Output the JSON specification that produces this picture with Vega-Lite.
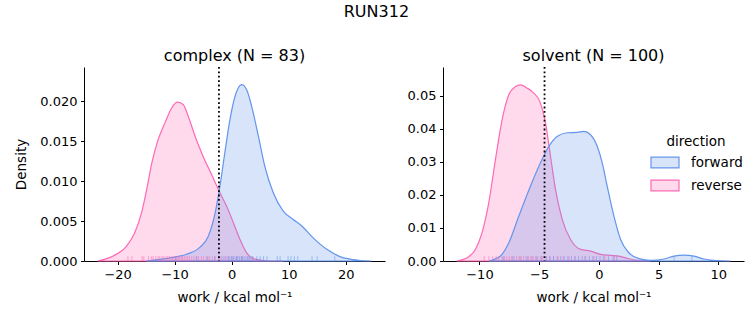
{
  "$schema": "https://vega.github.io/schema/vega-lite/v6.json",
  "background": "white",
  "padding": {"left": 14, "top": 4, "right": 5, "bottom": 5},
  "title": {"text": "RUN312", "fontSize": 16, "fontWeight": "normal", "anchor": "middle", "offset": 28, "dx": -3},
  "config": {
    "font": "DejaVu Sans",
    "view": {"stroke": null},
    "axis": {"grid": false, "domainColor": "black", "tickColor": "black", "labelColor": "black", "titleColor": "black", "labelFontSize": 13, "titleFontSize": 13.5, "titleFontWeight": "normal", "tickSize": 3.5, "labelPadding": 3.5, "domainWidth": 1, "tickWidth": 1, "titlePadding": 11, "labelOverlap": false},
    "title": {"fontSize": 16, "fontWeight": "normal", "color": "black"},
    "legend": {"titleFontSize": 13.5, "labelFontSize": 13.5, "titleFontWeight": "normal", "titleColor": "black", "labelColor": "black"}
  },
  "datasets": {
    "complex_kde": [
      {"direction": "reverse", "work": -23.5, "density": 0.0},
      {"direction": "reverse", "work": -20.8, "density": 0.000625},
      {"direction": "reverse", "work": -18.4, "density": 0.0019},
      {"direction": "reverse", "work": -17.0, "density": 0.00355},
      {"direction": "reverse", "work": -15.8, "density": 0.00605},
      {"direction": "reverse", "work": -14.9, "density": 0.00896},
      {"direction": "reverse", "work": -14.0, "density": 0.0123},
      {"direction": "reverse", "work": -12.9, "density": 0.0152},
      {"direction": "reverse", "work": -11.7, "density": 0.0173},
      {"direction": "reverse", "work": -10.5, "density": 0.0192},
      {"direction": "reverse", "work": -9.5, "density": 0.0199},
      {"direction": "reverse", "work": -8.5, "density": 0.0196},
      {"direction": "reverse", "work": -7.6, "density": 0.0181},
      {"direction": "reverse", "work": -6.4, "density": 0.0156},
      {"direction": "reverse", "work": -5.0, "density": 0.0131},
      {"direction": "reverse", "work": -3.5, "density": 0.0108},
      {"direction": "reverse", "work": -2.05, "density": 0.00855},
      {"direction": "reverse", "work": -0.9, "density": 0.00688},
      {"direction": "reverse", "work": 0.3, "density": 0.0048},
      {"direction": "reverse", "work": 1.46, "density": 0.0027},
      {"direction": "reverse", "work": 2.6, "density": 0.00105},
      {"direction": "reverse", "work": 3.8, "density": 0.0003},
      {"direction": "reverse", "work": 6.1, "density": 0.00003},
      {"direction": "reverse", "work": 9.0, "density": 0.0},
      {"direction": "forward", "work": -15.0, "density": 0.0},
      {"direction": "forward", "work": -10.8, "density": 0.0004},
      {"direction": "forward", "work": -7.9, "density": 0.00084},
      {"direction": "forward", "work": -5.6, "density": 0.0017},
      {"direction": "forward", "work": -4.1, "density": 0.0031},
      {"direction": "forward", "work": -2.9, "density": 0.006},
      {"direction": "forward", "work": -2.05, "density": 0.0094},
      {"direction": "forward", "work": -1.2, "density": 0.01355},
      {"direction": "forward", "work": -0.3, "density": 0.0177},
      {"direction": "forward", "work": 0.58, "density": 0.0206},
      {"direction": "forward", "work": 1.75, "density": 0.0221},
      {"direction": "forward", "work": 2.6, "density": 0.0215},
      {"direction": "forward", "work": 3.5, "density": 0.0194},
      {"direction": "forward", "work": 4.7, "density": 0.0156},
      {"direction": "forward", "work": 5.8, "density": 0.0119},
      {"direction": "forward", "work": 7.3, "density": 0.00855},
      {"direction": "forward", "work": 9.05, "density": 0.00625},
      {"direction": "forward", "work": 10.8, "density": 0.0052},
      {"direction": "forward", "work": 12.3, "density": 0.00438},
      {"direction": "forward", "work": 14.3, "density": 0.0029},
      {"direction": "forward", "work": 16.7, "density": 0.00146},
      {"direction": "forward", "work": 19.0, "density": 0.00055},
      {"direction": "forward", "work": 21.3, "density": 0.00017},
      {"direction": "forward", "work": 22.5, "density": 0.00005},
      {"direction": "forward", "work": 24.5, "density": 0.0}
    ],
    "solvent_kde": [
      {"direction": "reverse", "work": -11.9, "density": 0.0},
      {"direction": "reverse", "work": -11.04, "density": 0.001},
      {"direction": "reverse", "work": -10.34, "density": 0.0035},
      {"direction": "reverse", "work": -9.78, "density": 0.0086},
      {"direction": "reverse", "work": -9.22, "density": 0.0176},
      {"direction": "reverse", "work": -8.66, "density": 0.0307},
      {"direction": "reverse", "work": -8.1, "density": 0.0428},
      {"direction": "reverse", "work": -7.54, "density": 0.0503},
      {"direction": "reverse", "work": -6.98, "density": 0.0528},
      {"direction": "reverse", "work": -6.56, "density": 0.0533},
      {"direction": "reverse", "work": -6.0, "density": 0.0523},
      {"direction": "reverse", "work": -5.45, "density": 0.0508},
      {"direction": "reverse", "work": -4.95, "density": 0.0483},
      {"direction": "reverse", "work": -4.47, "density": 0.0418},
      {"direction": "reverse", "work": -4.05, "density": 0.0317},
      {"direction": "reverse", "work": -3.63, "density": 0.0216},
      {"direction": "reverse", "work": -3.07, "density": 0.0126},
      {"direction": "reverse", "work": -2.37, "density": 0.0065},
      {"direction": "reverse", "work": -1.53, "density": 0.0035},
      {"direction": "reverse", "work": -0.7, "density": 0.003},
      {"direction": "reverse", "work": 0.14, "density": 0.002},
      {"direction": "reverse", "work": 0.98, "density": 0.0017},
      {"direction": "reverse", "work": 1.68, "density": 0.0015},
      {"direction": "reverse", "work": 2.37, "density": 0.0008},
      {"direction": "reverse", "work": 3.2, "density": 0.0002},
      {"direction": "reverse", "work": 4.3, "density": 0.0},
      {"direction": "forward", "work": -9.22, "density": 0.0},
      {"direction": "forward", "work": -8.24, "density": 0.0015},
      {"direction": "forward", "work": -7.54, "density": 0.0055},
      {"direction": "forward", "work": -6.7, "density": 0.0136},
      {"direction": "forward", "work": -5.73, "density": 0.0226},
      {"direction": "forward", "work": -4.89, "density": 0.0297},
      {"direction": "forward", "work": -4.19, "density": 0.0347},
      {"direction": "forward", "work": -3.5, "density": 0.0377},
      {"direction": "forward", "work": -2.66, "density": 0.0388},
      {"direction": "forward", "work": -1.82, "density": 0.0389},
      {"direction": "forward", "work": -1.26, "density": 0.0392},
      {"direction": "forward", "work": -0.7, "density": 0.0382},
      {"direction": "forward", "work": -0.14, "density": 0.0347},
      {"direction": "forward", "work": 0.28, "density": 0.0297},
      {"direction": "forward", "work": 0.7, "density": 0.0226},
      {"direction": "forward", "work": 1.26, "density": 0.0136},
      {"direction": "forward", "work": 1.82, "density": 0.0065},
      {"direction": "forward", "work": 2.51, "density": 0.0025},
      {"direction": "forward", "work": 3.35, "density": 0.0007},
      {"direction": "forward", "work": 4.33, "density": 0.0002},
      {"direction": "forward", "work": 5.45, "density": 0.0006},
      {"direction": "forward", "work": 6.29, "density": 0.0015},
      {"direction": "forward", "work": 7.12, "density": 0.0018},
      {"direction": "forward", "work": 7.96, "density": 0.0015},
      {"direction": "forward", "work": 8.8, "density": 0.0006},
      {"direction": "forward", "work": 9.9, "density": 0.0001},
      {"direction": "forward", "work": 11.0, "density": 0.0}
    ],
    "complex_rug": [
      {"direction": "reverse", "work": -18.2}, {"direction": "reverse", "work": -17.5}, {"direction": "reverse", "work": -15.7}, {"direction": "reverse", "work": -15.4},
      {"direction": "reverse", "work": -14.6}, {"direction": "reverse", "work": -14.1}, {"direction": "reverse", "work": -13.8}, {"direction": "reverse", "work": -13.3},
      {"direction": "reverse", "work": -12.9}, {"direction": "reverse", "work": -12.6}, {"direction": "reverse", "work": -12.2}, {"direction": "reverse", "work": -11.9},
      {"direction": "reverse", "work": -11.5}, {"direction": "reverse", "work": -11.2}, {"direction": "reverse", "work": -10.9}, {"direction": "reverse", "work": -10.6},
      {"direction": "reverse", "work": -10.3}, {"direction": "reverse", "work": -10.1}, {"direction": "reverse", "work": -9.8}, {"direction": "reverse", "work": -9.6},
      {"direction": "reverse", "work": -9.3}, {"direction": "reverse", "work": -9.1}, {"direction": "reverse", "work": -8.8}, {"direction": "reverse", "work": -8.6},
      {"direction": "reverse", "work": -8.3}, {"direction": "reverse", "work": -8.0}, {"direction": "reverse", "work": -7.7}, {"direction": "reverse", "work": -7.4},
      {"direction": "reverse", "work": -7.0}, {"direction": "reverse", "work": -6.6}, {"direction": "reverse", "work": -6.2}, {"direction": "reverse", "work": -5.8},
      {"direction": "reverse", "work": -5.3}, {"direction": "reverse", "work": -4.9}, {"direction": "reverse", "work": -4.4}, {"direction": "reverse", "work": -3.9},
      {"direction": "reverse", "work": -3.4}, {"direction": "reverse", "work": -2.9}, {"direction": "reverse", "work": -2.3}, {"direction": "reverse", "work": -1.8},
      {"direction": "reverse", "work": -1.2}, {"direction": "reverse", "work": -0.6}, {"direction": "reverse", "work": 0.1}, {"direction": "reverse", "work": 0.9},
      {"direction": "reverse", "work": 1.8}, {"direction": "reverse", "work": 2.9}, {"direction": "reverse", "work": 3.7},
      {"direction": "forward", "work": -9.8}, {"direction": "forward", "work": -6.1}, {"direction": "forward", "work": -4.2}, {"direction": "forward", "work": -3.0},
      {"direction": "forward", "work": -2.1}, {"direction": "forward", "work": -1.5}, {"direction": "forward", "work": -1.0}, {"direction": "forward", "work": -0.6},
      {"direction": "forward", "work": -0.3}, {"direction": "forward", "work": 0.0}, {"direction": "forward", "work": 0.3}, {"direction": "forward", "work": 0.6},
      {"direction": "forward", "work": 0.9}, {"direction": "forward", "work": 1.1}, {"direction": "forward", "work": 1.4}, {"direction": "forward", "work": 1.7},
      {"direction": "forward", "work": 1.9}, {"direction": "forward", "work": 2.2}, {"direction": "forward", "work": 2.5}, {"direction": "forward", "work": 2.8},
      {"direction": "forward", "work": 3.1}, {"direction": "forward", "work": 3.4}, {"direction": "forward", "work": 3.7}, {"direction": "forward", "work": 4.4},
      {"direction": "forward", "work": 5.0}, {"direction": "forward", "work": 5.6}, {"direction": "forward", "work": 6.2}, {"direction": "forward", "work": 8.0},
      {"direction": "forward", "work": 8.5}, {"direction": "forward", "work": 9.9}, {"direction": "forward", "work": 10.4}, {"direction": "forward", "work": 11.0},
      {"direction": "forward", "work": 11.6}, {"direction": "forward", "work": 14.1}, {"direction": "forward", "work": 15.0}, {"direction": "forward", "work": 18.1}
    ],
    "solvent_rug": [
      {"direction": "reverse", "work": -9.6}, {"direction": "reverse", "work": -9.2}, {"direction": "reverse", "work": -8.9}, {"direction": "reverse", "work": -8.6},
      {"direction": "reverse", "work": -8.4}, {"direction": "reverse", "work": -8.1}, {"direction": "reverse", "work": -7.9}, {"direction": "reverse", "work": -7.7},
      {"direction": "reverse", "work": -7.5}, {"direction": "reverse", "work": -7.3}, {"direction": "reverse", "work": -7.1}, {"direction": "reverse", "work": -6.9},
      {"direction": "reverse", "work": -6.7}, {"direction": "reverse", "work": -6.5}, {"direction": "reverse", "work": -6.3}, {"direction": "reverse", "work": -6.1},
      {"direction": "reverse", "work": -5.9}, {"direction": "reverse", "work": -5.7}, {"direction": "reverse", "work": -5.5}, {"direction": "reverse", "work": -5.3},
      {"direction": "reverse", "work": -5.1}, {"direction": "reverse", "work": -4.9}, {"direction": "reverse", "work": -4.7}, {"direction": "reverse", "work": -4.4},
      {"direction": "reverse", "work": -4.1}, {"direction": "reverse", "work": -3.8}, {"direction": "reverse", "work": -3.4}, {"direction": "reverse", "work": -3.0},
      {"direction": "reverse", "work": -2.5}, {"direction": "reverse", "work": -2.0}, {"direction": "reverse", "work": -1.2}, {"direction": "reverse", "work": -0.4},
      {"direction": "reverse", "work": 0.5}, {"direction": "reverse", "work": 1.3},
      {"direction": "forward", "work": -8.0}, {"direction": "forward", "work": -7.2}, {"direction": "forward", "work": -6.6}, {"direction": "forward", "work": -6.0},
      {"direction": "forward", "work": -5.6}, {"direction": "forward", "work": -5.2}, {"direction": "forward", "work": -4.8}, {"direction": "forward", "work": -4.4},
      {"direction": "forward", "work": -4.1}, {"direction": "forward", "work": -3.8}, {"direction": "forward", "work": -3.5}, {"direction": "forward", "work": -3.2},
      {"direction": "forward", "work": -2.9}, {"direction": "forward", "work": -2.6}, {"direction": "forward", "work": -2.3}, {"direction": "forward", "work": -2.0},
      {"direction": "forward", "work": -1.7}, {"direction": "forward", "work": -1.4}, {"direction": "forward", "work": -1.1}, {"direction": "forward", "work": -0.8},
      {"direction": "forward", "work": -0.5}, {"direction": "forward", "work": -0.2}, {"direction": "forward", "work": 0.1}, {"direction": "forward", "work": 0.4},
      {"direction": "forward", "work": 0.8}, {"direction": "forward", "work": 1.2}, {"direction": "forward", "work": 1.5}, {"direction": "forward", "work": 6.3},
      {"direction": "forward", "work": 7.8}
    ],
    "thresholds": [
      {"panel": "complex", "work": -2.23},
      {"panel": "solvent", "work": -4.55}
    ]
  },
  "spacing": 22,
  "hconcat": [
    {
      "width": 301,
      "height": 194,
      "title": {"text": "complex (N = 83)", "offset": 2},
      "layer": [
        {
          "data": {"name": "complex_kde"},
          "mark": {"type": "area", "fillOpacity": 0.25, "strokeWidth": 1.2, "interpolate": "monotone"},
          "encoding": {
            "x": {"field": "work", "type": "quantitative", "scale": {"domain": [-25.9, 26.9], "nice": false, "zero": false}, "axis": {"values": [-20, -10, 0, 10, 20], "title": "work / kcal mol⁻¹", "titlePadding": 9}},
            "y": {"field": "density", "type": "quantitative", "stack": null, "scale": {"domain": [0, 0.0243], "nice": false}, "axis": {"values": [0, 0.005, 0.01, 0.015, 0.02], "format": ".3f", "title": "Density"}},
            "fill": {"field": "direction", "type": "nominal", "scale": {"domain": ["forward", "reverse"], "range": ["#6495ED", "#FF69B4"]}, "legend": {"orient": "none", "legendX": 566, "legendY": 68, "title": "direction", "titleAnchor": "middle", "titlePadding": -1, "symbolType": "M-1,-0.38H1V0.38H-1Z", "symbolSize": 784, "symbolStrokeWidth": 1.2, "labelOffset": 11, "rowPadding": -3, "encode": {"symbols": {"update": {"fillOpacity": {"value": 0.25}, "strokeOpacity": {"value": 1}}}}}},
            "stroke": {"field": "direction", "type": "nominal", "scale": {"domain": ["forward", "reverse"], "range": ["#6495ED", "#FF69B4"]}, "legend": {"orient": "none", "legendX": 566, "legendY": 68, "title": "direction", "titleAnchor": "middle", "titlePadding": -1, "symbolType": "M-1,-0.38H1V0.38H-1Z", "symbolSize": 784, "symbolStrokeWidth": 1.2, "labelOffset": 11, "rowPadding": -3, "encode": {"symbols": {"update": {"fillOpacity": {"value": 0.25}, "strokeOpacity": {"value": 1}}}}}}
          }
        },
        {
          "data": {"name": "complex_rug"},
          "mark": {"type": "rule", "strokeWidth": 1, "strokeOpacity": 0.55},
          "encoding": {
            "x": {"field": "work", "type": "quantitative", "axis": {"values": [-20, -10, 0, 10, 20], "title": "work / kcal mol⁻¹", "titlePadding": 9}},
            "y": {"datum": 0, "axis": {"values": [0, 0.005, 0.01, 0.015, 0.02], "format": ".3f", "title": "Density"}},
            "y2": {"datum": 0.000608},
            "stroke": {"field": "direction", "type": "nominal", "legend": null}
          }
        },
        {
          "data": {"name": "thresholds"},
          "transform": [{"filter": "datum.panel == 'complex'"}],
          "mark": {"type": "rule", "color": "black", "strokeWidth": 1.8, "strokeDash": [1.8, 2.6]},
          "encoding": {"x": {"field": "work", "type": "quantitative", "axis": {"values": [-20, -10, 0, 10, 20], "title": "work / kcal mol⁻¹", "titlePadding": 9}}}
        }
      ]
    },
    {
      "width": 301,
      "height": 194,
      "title": {"text": "solvent (N = 100)", "offset": 2},
      "layer": [
        {
          "data": {"name": "solvent_kde"},
          "mark": {"type": "area", "fillOpacity": 0.25, "strokeWidth": 1.2, "interpolate": "monotone"},
          "encoding": {
            "x": {"field": "work", "type": "quantitative", "scale": {"domain": [-13.05, 12.15], "nice": false, "zero": false}, "axis": {"values": [-10, -5, 0, 5, 10], "title": "work / kcal mol⁻¹", "titlePadding": 9}},
            "y": {"field": "density", "type": "quantitative", "stack": null, "scale": {"domain": [0, 0.0587], "nice": false}, "axis": {"values": [0, 0.01, 0.02, 0.03, 0.04, 0.05], "format": ".2f", "title": null}},
            "fill": {"field": "direction", "type": "nominal", "scale": {"domain": ["forward", "reverse"], "range": ["#6495ED", "#FF69B4"]}, "legend": {"orient": "none", "legendX": 566, "legendY": 68, "title": "direction", "titleAnchor": "middle", "titlePadding": -1, "symbolType": "M-1,-0.38H1V0.38H-1Z", "symbolSize": 784, "symbolStrokeWidth": 1.2, "labelOffset": 11, "rowPadding": -3, "encode": {"symbols": {"update": {"fillOpacity": {"value": 0.25}, "strokeOpacity": {"value": 1}}}}}},
            "stroke": {"field": "direction", "type": "nominal", "scale": {"domain": ["forward", "reverse"], "range": ["#6495ED", "#FF69B4"]}, "legend": {"orient": "none", "legendX": 566, "legendY": 68, "title": "direction", "titleAnchor": "middle", "titlePadding": -1, "symbolType": "M-1,-0.38H1V0.38H-1Z", "symbolSize": 784, "symbolStrokeWidth": 1.2, "labelOffset": 11, "rowPadding": -3, "encode": {"symbols": {"update": {"fillOpacity": {"value": 0.25}, "strokeOpacity": {"value": 1}}}}}}
          }
        },
        {
          "data": {"name": "solvent_rug"},
          "mark": {"type": "rule", "strokeWidth": 1, "strokeOpacity": 0.55},
          "encoding": {
            "x": {"field": "work", "type": "quantitative", "axis": {"values": [-10, -5, 0, 5, 10], "title": "work / kcal mol⁻¹", "titlePadding": 9}},
            "y": {"datum": 0, "axis": {"values": [0, 0.01, 0.02, 0.03, 0.04, 0.05], "format": ".2f", "title": null}},
            "y2": {"datum": 0.00147},
            "stroke": {"field": "direction", "type": "nominal", "legend": null}
          }
        },
        {
          "data": {"name": "thresholds"},
          "transform": [{"filter": "datum.panel == 'solvent'"}],
          "mark": {"type": "rule", "color": "black", "strokeWidth": 1.8, "strokeDash": [1.8, 2.6]},
          "encoding": {"x": {"field": "work", "type": "quantitative", "axis": {"values": [-10, -5, 0, 5, 10], "title": "work / kcal mol⁻¹", "titlePadding": 9}}}
        }
      ]
    }
  ],
  "resolve": {"scale": {"x": "independent", "y": "independent", "fill": "shared", "stroke": "shared"}}
}
